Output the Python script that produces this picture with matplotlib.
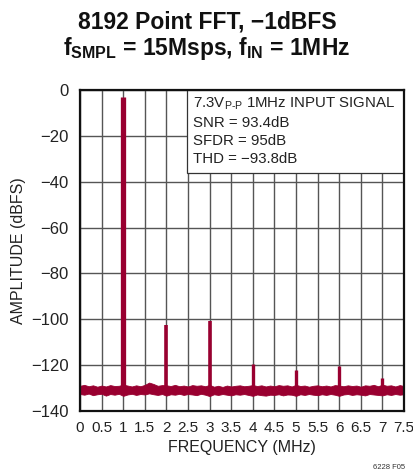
import matplotlib
matplotlib.use("Agg")
import matplotlib.pyplot as plt
from matplotlib.patches import Rectangle
import numpy as np

# ---- data ----
freq_grid = [round(0.1 * i, 1) for i in range(76)]  # MHz, 0..7.5
floor_upper = [-129.0, -128.6, -129.2, -128.8, -129.4, -128.9, -129.3, -128.7, -129.1, -129.0,
               -128.5, -128.9, -129.3, -128.8, -129.2, -128.6, -127.6, -128.2, -129.0, -128.7,
               -128.8, -129.1, -128.6, -129.2, -128.9, -129.3, -128.7, -129.0, -128.8, -129.2,
               -128.6, -129.4, -129.0, -129.5, -128.9, -129.3, -129.0, -128.8, -129.2, -129.0,
               -128.7, -129.1, -128.8, -129.3, -128.9, -129.2, -128.7, -129.0, -128.8, -129.3,
               -128.6, -129.1, -128.9, -129.4, -129.0, -128.8, -129.2, -128.9, -129.3, -128.7,
               -128.9, -129.2, -128.8, -129.1, -128.9, -129.4, -128.8, -129.0, -128.6, -129.2,
               -128.5, -129.0, -128.8, -129.3, -128.7, -129.1]
floor_lower = [-132.6, -132.9, -132.4, -133.1, -132.7, -132.5, -133.3, -132.6, -132.9, -132.5,
               -133.4, -132.8, -132.5, -133.0, -132.6, -132.8, -132.3, -132.7, -133.0, -132.6,
               -133.3, -132.7, -132.9, -132.5, -133.0, -132.6, -132.8, -133.1, -132.5, -132.9,
               -133.5, -132.7, -133.0, -132.6, -132.9, -133.2, -132.7, -132.9, -132.6, -133.0,
               -133.4, -132.8, -133.1, -133.3, -132.9, -133.0, -132.7, -133.2, -132.8, -132.9,
               -133.4, -132.7, -133.0, -132.6, -132.9, -133.1, -132.7, -133.0, -132.6, -132.9,
               -133.4, -132.8, -132.6, -133.0, -132.7, -132.9, -133.2, -132.6, -132.8, -133.0,
               -133.2, -132.7, -133.0, -132.6, -132.9, -132.7]
spike_freqs = [1.0, 2.0, 3.0, 4.0, 5.0, 6.0, 7.0]
spike_peaks = [-3.2, -102.5, -100.7, -119.6, -122.1, -120.2, -125.5]
spike_widths = [3.8, 2.6, 2.6, 2.4, 2.4, 2.4, 2.4]

x_ticks = [0, 0.5, 1, 1.5, 2, 2.5, 3, 3.5, 4, 4.5, 5, 5.5, 6, 6.5, 7, 7.5]
x_tick_labels = ["0", "0.5", "1", "1.5", "2", "2.5", "3", "3.5", "4", "4.5",
                 "5", "5.5", "6", "6.5", "7", "7.5"]
y_ticks = [0, -20, -40, -60, -80, -100, -120, -140]
y_tick_labels = ["0", "\u221220", "\u221240", "\u221260", "\u221280", "\u2212100", "\u2212120", "\u2212140"]

# ---- style ----
plt.rcParams["font.family"] = ["Liberation Sans Narrow", "Liberation Sans", "DejaVu Sans"]
color = "#990030"
grid_color = "#555555"
text_color = "#222222"

fig = plt.figure(figsize=(4.14, 4.72), dpi=100)
ax = fig.add_axes([80 / 414, 1 - 411 / 472, 324 / 414, 321 / 472])

ax.set_xlim(0, 7.5)
ax.set_ylim(-140, 0)

ax.set_xticks(x_ticks)
ax.set_xticklabels(x_tick_labels)
ax.set_yticks(y_ticks)
ax.set_yticklabels(y_tick_labels)
ax.tick_params(axis="x", length=0, labelsize=11, pad=7, colors=text_color)
ax.tick_params(axis="y", length=0, labelsize=12, pad=8, colors=text_color)
ax.grid(True, color=grid_color, linewidth=1.0)
ax.set_axisbelow(True)
for sp in ax.spines.values():
    sp.set_linewidth(1.6)
    sp.set_color("#111111")
    sp.set_zorder(6)

ax.fill_between(freq_grid, floor_lower, floor_upper, color=color, linewidth=0.6,
                edgecolor=color, zorder=3)
floor_mid = [(a + b) / 2 for a, b in zip(floor_upper, floor_lower)]
base = np.interp(spike_freqs, freq_grid, floor_mid)
for f, p, w, b in zip(spike_freqs, spike_peaks, spike_widths, base):
    ax.vlines(f, b, p, color=color, linewidth=w, zorder=4)

ax.set_xlabel("FREQUENCY (MHz)", fontsize=11.5, labelpad=4, color=text_color)
ax.set_ylabel("AMPLITUDE (dBFS)", fontsize=11.5, labelpad=4, color=text_color)

# annotation box
box_x0 = (187 - 80) / 324
box_y0 = (411 - 173) / 321
ax.add_patch(Rectangle((box_x0, box_y0), 1 - box_x0, 1 - box_y0, transform=ax.transAxes,
                       facecolor="white", edgecolor="#333333", linewidth=0.9, zorder=5))
ax.text(box_x0 + 0.018, 0.985,
        "7.3V$_{\\mathregular{P\u2010P}}$ 1MHz INPUT SIGNAL\nSNR = 93.4dB\nSFDR = 95dB\nTHD = \u221293.8dB",
        transform=ax.transAxes, ha="left", va="top", fontsize=10.8, linespacing=1.38,
        color=text_color, zorder=7)

fig.text(0.5, 0.953, "8192 Point FFT, \u22121dBFS", ha="center", va="center",
         fontsize=16.5, fontweight="bold", color="#111111")
fig.text(0.5, 0.897,
         "f$_{\\mathregular{SMPL}}$ = 15Msps, f$_{\\mathregular{IN}}$ = 1MHz",
         ha="center", va="center", fontsize=16.5, fontweight="bold", color="#111111")
fig.text(0.978, 0.002, "6228 F05", ha="right", va="bottom", fontsize=5.5, color="#333333")

fig.savefig("out.png", dpi=100)
